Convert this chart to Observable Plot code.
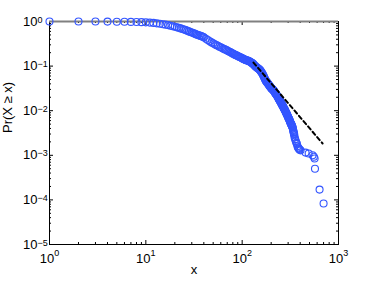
<!DOCTYPE html>
<html><head><meta charset="utf-8">
<script src="https://cdn.jsdelivr.net/npm/d3@7"></script>
<script src="https://cdn.jsdelivr.net/npm/@observablehq/plot@0.6"></script>
<style>html,body{margin:0;padding:0;background:#fff;}</style>
</head><body><div id="chart"></div>
<script>
const ccdfX = [1,2,3,4,5,6,7,8,9,10,11,12,13,14,15,16,17,18,19,20,21,22,23,24,25,26,27,28,29,30,31,32,33,34,35,36,37,38,39,40,
  42,44,46,48,50,52,54,56,58,60,62,64,66,68,70,72,74,76,78,80,82,84,86,88,90,92,94,96,98,100,
  102,104,106,108,110,112,114,116,118,120,122,124,126,128,130,
  132,134,136,138,140,142,144,146,148,150,152,154,156,158,160,162,164,166,168,170,
  172,174,176,178,180,182,184,186,188,190,192,194,196,198,200,202,204,206,208,210,
  212,214,216,218,220,222,224,226,228,230,232,234,236,238,240,242,244,246,248,250,
  252,254,256,258,260,262,264,266,268,270,272,274,276,278,280,282,284,286,288,290,
  292,294,296,298,300,302,304,306,308,310,312,314,316,318,320,322,324,326,328,330,
  332,334,336,338,340,342,344,346,348,350,355,360,365,370,375,380,385,390,395,404,
  455,490,538,555,565,570,636,700];
const ccdfY = [1,0.999,0.997,0.994,0.99,0.985,0.98,0.975,0.968,0.958,0.945,0.93,0.91,0.89,0.87,0.85,0.83,0.8,0.78,0.76,0.74,0.72,0.7,0.68,0.66,0.64,0.62,0.6,0.58,0.565,0.55,0.535,0.52,0.505,0.495,0.485,0.475,0.465,0.455,0.445,
  0.41,0.385,0.36,0.34,0.324,0.31,0.295,0.285,0.272,0.263,0.254,0.245,0.237,0.232,0.224,0.216,0.209,0.204,0.197,0.19,0.186,0.18,0.176,0.172,0.168,0.164,0.16,0.157,0.153,0.15,
  0.147,0.143,0.14,0.138,0.136,0.134,0.133,0.131,0.128,0.126,0.123,0.12,0.118,0.115,0.112,
  0.108,0.104,0.1,0.098,0.095,0.093,0.091,0.089,0.087,0.085,0.083,0.08,0.077,0.074,0.071,0.068,0.065,0.061,0.058,0.055,
  0.052,0.049,0.047,0.045,0.044,0.0425,0.0413,0.0402,0.039,0.037,0.036,0.0353,0.0345,0.0335,0.032,0.0315,0.031,0.0302,0.0295,0.029,
  0.0283,0.0275,0.0267,0.0258,0.025,0.0244,0.0238,0.0231,0.0225,0.0219,0.0212,0.0205,0.0198,0.019,0.0182,0.0178,0.0173,0.0168,0.0163,0.0158,
  0.0153,0.0148,0.0143,0.0139,0.0135,0.0131,0.0128,0.0124,0.012,0.0115,0.0112,0.0109,0.0106,0.0103,0.01,0.0096,0.0093,0.009,0.0087,0.0085,
  0.0082,0.0079,0.0077,0.0074,0.0072,0.0069,0.0067,0.0066,0.0064,0.0062,0.0059,0.0057,0.0055,0.0053,0.0052,0.005,0.0049,0.0048,0.0046,0.0045,
  0.0043,0.0042,0.004,0.0037,0.0035,0.0033,0.0031,0.003,0.0028,0.0025,0.0023,0.0021,0.0019,0.0018,0.0016,0.0015,0.00143,0.00138,0.00133,0.00129,
  0.00115,0.0011,0.001,0.00093,0.00085,0.0005,0.00017,0.000083];
// Power-law fit (dashed) endpoints
const fitX = [131, 684];
const fitY = [0.12, 0.00184];
// Ticks and labels
const xTicks = [1, 10, 100, 1000];
const yTicks = [1e-5, 1e-4, 1e-3, 1e-2, 1e-1, 1];
const xLabel = "x";
const yLabel = "Pr(X \u2265 x)";

const W = 374, H = 281, mL = 49, mR = 36, mT = 21, mB = 37;
const innerW = W - mL - mR, innerH = H - mT - mB;
const minorX = xTicks.slice(0, -1).flatMap(d => [2,3,4,5,6,7,8,9].map(k => k * d));
const minorY = yTicks.slice(0, -1).flatMap(d => [2,3,4,5,6,7,8,9].map(k => k * d));
const points = ccdfX.map((x, i) => ({x, y: ccdfY[i]}));
const fit = fitX.map((x, i) => ({x, y: fitY[i]}));
const expFmt = d => String(Math.round(Math.log10(d)));
const ink = "#000";

const chart = Plot.plot({
  width: W, height: H,
  marginLeft: mL, marginRight: mR, marginTop: mT, marginBottom: mB,
  style: {fontFamily: "'Liberation Sans', Arial, sans-serif", fontSize: "13px", background: "#fff", color: "#000"},
  x: {type: "log", domain: [1, 1000]},
  y: {type: "log", domain: [1e-5, 1]},
  marks: [
    Plot.axisX(xTicks, {anchor: "bottom", tickSize: 0, tickPadding: 9, tickFormat: expFmt, label: null}),
    Plot.axisY(yTicks, {anchor: "left", tickSize: 0, tickPadding: 12, tickFormat: expFmt, label: null}),
    Plot.tickX(xTicks, {x: d => d, insetTop: innerH - 4, stroke: ink}),
    Plot.tickX(xTicks, {x: d => d, insetBottom: innerH - 4, stroke: ink}),
    Plot.tickX(minorX, {x: d => d, insetTop: innerH - 2, stroke: ink}),
    Plot.tickX(minorX, {x: d => d, insetBottom: innerH - 2, stroke: ink}),
    Plot.tickY(yTicks, {y: d => d, insetRight: innerW - 4, stroke: ink}),
    Plot.tickY(yTicks, {y: d => d, insetLeft: innerW - 4, stroke: ink}),
    Plot.tickY(minorY, {y: d => d, insetRight: innerW - 2, stroke: ink}),
    Plot.tickY(minorY, {y: d => d, insetLeft: innerW - 2, stroke: ink}),
    Plot.frame({stroke: ink}),
    Plot.ruleY([1], {stroke: "#808080", strokeWidth: 2}),
    Plot.dot(points, {x: "x", y: "y", r: 3.5, stroke: "#3355ff", fill: "none", strokeWidth: 1.1}),
    Plot.line(fit, {x: "x", y: "y", stroke: "#000", strokeWidth: 2, strokeDasharray: "4,3"}),
    Plot.text([xLabel], {text: d => d, frameAnchor: "bottom", dy: 29, fontSize: 13}),
    Plot.text([yLabel], {text: d => d, frameAnchor: "left", dx: -42, rotate: -90, fontSize: 13})
  ]
});

const ns = "http://www.w3.org/2000/svg";
chart.querySelectorAll('g[aria-label="x-axis tick label"] text').forEach(t => {
  const e = t.textContent.replace("-", "\u2212");
  t.textContent = "10";
  const ts = document.createElementNS(ns, "tspan");
  ts.setAttribute("dy", "-7");
  ts.setAttribute("font-size", "9");
  ts.textContent = e;
  t.appendChild(ts);
});
chart.querySelectorAll('g[aria-label="y-axis tick label"] text').forEach(t => {
  const e = t.textContent.replace("-", "\u2212");
  t.textContent = "10";
  const s = t.cloneNode(false);
  s.setAttribute("text-anchor", "start");
  s.setAttribute("font-size", "9");
  s.setAttribute("dy", "-1.8");
  s.textContent = e;
  t.parentNode.appendChild(s);
});
document.getElementById("chart").appendChild(chart);
</script>
</body></html>
